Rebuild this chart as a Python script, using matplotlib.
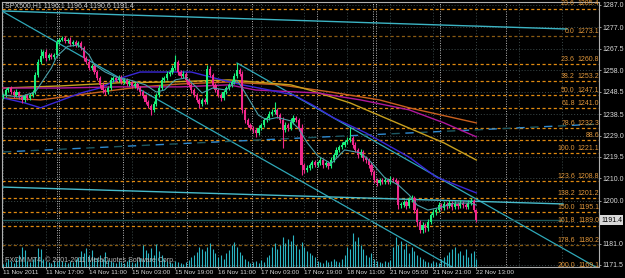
import matplotlib
matplotlib.use('Agg')
import matplotlib.pyplot as plt

plt.rcParams['font.family'] = ['Liberation Sans', 'DejaVu Sans']

# SPX500 H1 candles (index = bar number from the left)
first_open = 1246.0
closes = [1247.0,1249.2,1250.1,1248.3,1247.0,1248.3,1246.1,1244.8,1246.6,1245.7,
          1247.0,1248.3,1255.9,1261.7,1264.3,1266.1,1263.5,1264.8,1263.9,1264.8,
          1270.6,1271.5,1272.3,1271.0,1271.5,1269.7,1270.6,1269.2,1270.1,1267.9,
          1263.5,1261.7,1259.0,1259.9,1257.2,1254.6,1251.5,1249.2,1248.3,1250.1,
          1253.7,1254.6,1253.7,1255.0,1252.8,1253.7,1251.9,1252.8,1251.0,1251.9,
          1250.1,1248.3,1246.6,1243.9,1242.1,1240.4,1243.0,1247.0,1250.1,1253.7,
          1254.6,1256.3,1257.2,1259.0,1261.7,1257.2,1255.5,1256.3,1253.7,1251.5,
          1249.2,1247.0,1244.8,1243.0,1244.8,1243.9,1258.5,1255.9,1251.5,1249.2,
          1247.0,1245.7,1248.3,1250.1,1251.5,1252.8,1255.5,1258.1,1256.3,1240.4,
          1235.9,1233.7,1232.4,1231.5,1230.1,1232.4,1233.7,1235.9,1236.8,1238.6,
          1239.5,1240.4,1238.1,1235.9,1231.5,1233.7,1232.4,1235.0,1236.8,1235.9,
          1232.4,1215.9,1213.7,1214.6,1215.9,1217.2,1215.9,1216.8,1218.1,1215.9,
          1216.8,1215.5,1218.1,1220.4,1222.6,1223.9,1224.8,1226.1,1227.0,1227.9,
          1224.8,1222.6,1220.4,1221.7,1219.0,1218.1,1215.9,1212.8,1209.3,1207.9,
          1209.3,1208.4,1209.3,1208.4,1209.7,1209.3,1208.4,1198.1,1198.1,1199.5,
          1197.7,1200.4,1201.2,1195.9,1190.5,1187.0,1189.2,1187.8,1190.5,1193.7,
          1195.0,1195.9,1198.1,1196.8,1198.6,1197.7,1199.0,1197.2,1198.6,1197.7,
          1199.0,1198.1,1197.2,1199.0,1199.9,1196.1,1191.4]
up_wick = [0.8,1.0,0.6,0.9,0.7,1.2,0.6,0.8,1.0,0.7,
           0.9,1.1,1.4,1.5,3.0,1.0,1.2,0.8,1.0,0.9,
           1.2,0.9,0.8,1.0,0.7,1.1,0.9,0.8,1.0,0.7,
           1.0,0.8,1.2,0.9,1.0,0.7,0.9,1.1,0.8,1.0,
           1.2,0.8,1.0,0.9,0.7,1.0,0.8,0.9,0.7,1.0,
           0.8,0.9,0.7,1.0,0.8,0.9,1.2,1.0,1.3,1.5,
           1.0,1.2,0.9,1.5,3.1,1.0,0.8,1.2,0.9,0.8,
           1.0,0.7,0.9,0.8,1.0,0.9,2.0,1.2,1.0,0.8,
           0.9,1.0,0.8,1.1,0.9,1.0,1.2,3.1,1.0,1.2,
           1.0,0.8,0.9,0.7,1.0,1.2,0.9,1.1,1.0,1.3,
           1.2,3.5,1.0,0.9,1.5,1.2,1.0,2.0,1.3,1.0,
           1.0,1.5,1.0,1.2,1.0,0.8,1.1,0.9,1.2,0.8,
           1.0,0.9,1.2,1.0,1.3,0.9,1.1,1.0,1.2,4.9,
           1.0,1.2,0.8,1.5,1.0,0.9,1.0,1.2,1.0,0.8,
           1.0,0.9,1.1,0.8,1.2,1.0,0.9,1.0,1.2,1.0,
           0.9,1.3,1.5,1.0,0.8,1.0,1.2,0.9,1.4,1.0,
           1.2,1.0,1.5,0.9,1.2,1.0,1.3,0.8,1.1,1.0,
           1.2,0.9,1.0,1.3,1.4,0.8,0.3]
dn_wick = [1.0,0.7,0.9,0.8,1.2,0.8,1.0,1.2,0.9,1.0,
           0.8,1.0,0.9,1.0,0.8,0.9,1.2,0.8,1.0,0.9,
           0.8,1.0,0.7,0.9,0.8,1.0,0.9,0.8,1.1,1.0,
           1.2,0.9,1.0,0.8,1.1,1.0,1.2,1.4,1.3,0.9,
           0.8,1.0,0.9,0.8,1.0,0.9,1.0,0.8,1.1,0.9,
           1.0,1.2,0.9,1.1,1.0,2.3,1.0,0.9,0.8,1.0,
           0.8,0.9,1.0,0.8,0.9,1.2,1.0,0.9,1.1,1.0,
           1.2,0.9,1.1,1.7,1.0,0.9,0.8,1.0,1.2,1.0,
           1.1,1.3,0.9,1.0,0.8,0.9,1.0,0.8,1.0,1.5,
           1.2,1.0,1.1,1.3,1.7,1.0,0.9,0.8,1.0,0.9,
           0.8,1.0,1.2,1.4,8.0,1.0,1.2,0.9,1.0,1.1,
           1.3,4.4,1.5,1.0,0.9,1.2,1.0,1.1,0.9,1.2,
           1.0,1.3,0.9,1.0,0.8,1.0,0.9,1.0,0.8,1.0,
           1.2,1.0,1.3,0.9,1.1,1.2,1.4,1.3,1.5,1.2,
           1.0,1.1,0.9,1.0,0.9,1.1,1.0,1.6,1.2,1.0,
           1.3,1.0,0.9,1.4,1.5,1.3,1.2,1.5,1.0,0.9,
           1.0,1.2,0.9,1.1,1.0,1.2,0.9,1.1,1.0,1.2,
           1.0,1.1,0.9,1.0,0.9,1.2,0.8]
volumes = [3,5,8,6,4,9,12,20,17,6,
           5,8,10,19,18,8,6,5,4,6,
           5,7,6,5,4,6,5,8,10,16,
           14,19,12,17,10,9,12,8,15,7,
           6,5,4,6,5,4,6,8,5,4,
           7,9,22,17,14,19,12,23,16,12,
           8,6,5,4,6,5,4,3,5,7,
           10,12,15,20,18,16,20,24,18,14,
           10,12,8,14,17,22,25,20,15,12,
           8,6,4,5,6,4,7,5,10,12,
           20,24,18,22,30,24,28,26,32,22,
           18,25,20,16,14,12,10,6,5,4,
           7,5,6,8,6,5,8,12,20,18,
           34,26,30,22,18,12,10,14,8,6,
           5,4,6,5,7,20,30,22,26,18,
           24,14,20,16,12,10,8,6,5,4,
           6,5,4,8,10,12,15,18,20,14,
           16,12,18,10,14,16,8]

time_labels = ['11 Nov 2011', '11 Nov 17:00', '14 Nov 11:00', '15 Nov 03:00',
               '15 Nov 19:00', '16 Nov 11:00', '17 Nov 03:00', '17 Nov 19:00',
               '18 Nov 11:00', '21 Nov 05:00', '21 Nov 21:00', '22 Nov 13:00']
price_ticks = [1287.0, 1277.0, 1267.5, 1258.0, 1248.5, 1238.5, 1229.0,
               1219.5, 1210.0, 1200.0, 1190.5, 1181.0, 1171.5]
bid = 1191.4
day_breaks = [19.9, 20.8, 44.6, 68.6, 92.6, 116.7, 137.7, 138.7, 162.5, 187.0]

fib_text = ['23.6', '0.0', '23.6', '38.2', '50.0', '61.8', '78.6', '88.6',
            '100.0', '123.6', '138.2', '150.0', '161.8', '178.6', '200.0']
fib_prices = [1285.4, 1273.1, 1260.8, 1253.2, 1247.1, 1241.0, 1232.3, 1227.1,
              1221.1, 1208.8, 1201.2, 1195.1, 1189.0, 1180.2, 1169.1]

# moving averages, sampled along the curves
fast_x = [0, 6, 12, 18, 20, 24, 28, 32, 34, 38, 42, 47, 53, 57, 60, 64, 68, 71, 74,
          78, 83, 87, 89, 92, 95, 98, 102, 107, 110, 113, 117, 122, 127, 133, 137,
          142, 147, 151, 154, 158, 163, 168, 174, 176]
fast_y = [1247.0, 1246.1, 1248.3, 1259.0, 1264.1, 1268.6, 1269.2, 1264.8, 1260.4,
          1257.2, 1255.0, 1253.7, 1251.5, 1248.3, 1249.2, 1253.7, 1254.6, 1251.5,
          1247.9, 1250.1, 1249.2, 1253.5, 1250.0, 1244.0, 1238.0, 1236.0, 1237.0,
          1235.5, 1232.0, 1226.0, 1220.0, 1216.5, 1222.6, 1221.3, 1217.0, 1210.2,
          1207.0, 1202.6, 1198.1, 1195.9, 1197.2, 1199.0, 1199.0, 1198.1]
blue_x = [0, 8, 14, 19, 29, 36, 44, 51, 60, 70, 80, 89, 99, 108, 115, 123, 135,
          151, 161, 176]
blue_y = [1245.7, 1243.5, 1241.3, 1243.5, 1247.9, 1250.1, 1254.6, 1257.2, 1257.2,
          1257.2, 1254.1, 1251.5, 1249.2, 1247.0, 1242.6, 1236.8, 1230.1, 1219.4,
          1210.6, 1203.5]
magenta_x = [0, 21, 43, 66, 84, 94, 117, 133, 151, 164, 176]
magenta_y = [1250.1, 1250.1, 1250.6, 1250.6, 1251.5, 1249.2, 1247.9, 1244.8,
             1240.4, 1234.6, 1228.4]
brown_x = [0, 14, 36, 51, 66, 84, 103, 122, 140, 151, 176]
brown_y = [1245.7, 1244.8, 1248.3, 1250.6, 1251.9, 1252.8, 1251.5, 1248.3, 1244.8,
           1241.3, 1234.6]
gold_x = [0, 21, 43, 62, 84, 107, 114, 129, 150, 164, 176]
gold_y = [1250.1, 1251.0, 1252.4, 1252.8, 1253.7, 1251.5, 1249.2, 1243.5, 1232.8,
          1225.7, 1218.1]

# trend lines (end points)
chan_a = ([0, 167], [1284.0, 1170.6])
chan_b = ([87, 222], [1261.2, 1169.5])
top_line = ([0, 209.7], [1284.3, 1276.3])
low_line = ([0, 208.2], [1206.1, 1198.6])
dash_line = ([0, 222], [1221.7, 1234.1])

W, H = 625, 278
FS = 5
fig = plt.figure(figsize=(W / 100, H / 100), dpi=100)
fig.patch.set_facecolor('black')
ax = fig.add_axes([2 / W, 11 / H, 597 / W, 265 / H])
ax.set_facecolor('black')
ax.set_xlim(-0.37, 221.6)
ax.set_ylim(1170.6, 1288.3)

grid_c = '#3c4a4a'
for p in price_ticks:
    ax.axhline(p, color=grid_c, lw=0.7, ls=(0, (1, 2)), zorder=1)
for i in range(0, 209, 16):
    ax.axvline(i, color=grid_c, lw=0.7, ls=(0, (1, 2)), zorder=1)
for d in day_breaks:
    ax.axvline(d, color='#b8b8b8', lw=0.7, ls=(0, (1, 1.5)), zorder=1)

# fibo levels
fib_c = '#e0963a'
for t, p in zip(fib_text, fib_prices):
    c = '#8a5a12' if t in ('0.0', '178.6') else '#e08a10'
    ax.axhline(p, color=c, lw=0.9, ls=(0, (2.5, 2)), zorder=2)
    if t == '88.6':
        ax.text(221.6, p + 0.5, t, color=fib_c, fontsize=FS, ha='right', va='bottom', zorder=6)
    else:
        ax.text(212.6, p + 0.5, t, color=fib_c, fontsize=FS, ha='right', va='bottom', zorder=6)
        ax.text(221.6, p + 0.5, '%.1f' % p, color=fib_c, fontsize=FS, ha='right', va='bottom', zorder=6)

# straight lines
ax.plot(*chan_a, color='#2fa8b8', lw=0.9, zorder=3)
ax.plot(*chan_b, color='#2fa8b8', lw=0.9, zorder=3)
ax.plot(*top_line, color='#3cb4c4', lw=1.0, zorder=3)
ax.plot(*low_line, color='#48bccc', lw=1.0, zorder=3)
ax.plot([0, 208], [bid, bid], color='#1e5a5c', lw=1.0, zorder=3)
ax.plot(*dash_line, color='#1d5862', lw=1.0, ls=(0, (6, 14)), zorder=3)
ax.plot(*dash_line, color='#2f8ad0', lw=1.0, ls=(10, (6, 14)), zorder=3)

# moving averages
ax.plot(brown_x, brown_y, color='#c8601e', lw=1.0, zorder=4)
ax.plot(gold_x, gold_y, color='#c8a01e', lw=1.0, zorder=4)
ax.plot(magenta_x, magenta_y, color='#b0189c', lw=1.0, zorder=4)
ax.plot(blue_x, blue_y, color='#3a28d8', lw=1.0, zorder=4)

# candles
n = len(closes)
opens = [first_open] + closes[:-1]
xs = list(range(n))
highs = [max(o, c) + u for o, c, u in zip(opens, closes, up_wick)]
lows = [min(o, c) - d for o, c, d in zip(opens, closes, dn_wick)]
cols = ['#19f07c' if c >= o else '#f0288c' for o, c in zip(opens, closes)]
ax.vlines(xs, lows, highs, colors=cols, lw=0.8, zorder=5)
ax.bar(xs, [max(abs(c - o), 0.3) for o, c in zip(opens, closes)],
       bottom=[min(o, c) for o, c in zip(opens, closes)],
       width=0.8, color=cols, linewidth=0, zorder=5)
ax.plot(fast_x, fast_y, color='#4aa0aa', lw=0.8, zorder=5)

# volumes
axv = ax.twinx()
axv.set_ylim(0, 265)
axv.set_xlim(ax.get_xlim())
axv.vlines(xs, 0, volumes, colors='#2ab4c2', lw=0.8)
axv.axis('off')

# axes look
for s in ax.spines.values():
    s.set_color('#b0b0b0')
    s.set_linewidth(0.8)
ax.yaxis.tick_right()
ax.set_yticks(price_ticks)
ax.set_yticklabels(['' if p == 1190.5 else '%.1f' % p for p in price_ticks])
ax.set_xticks(range(0, n, 16))
ax.set_xticklabels(time_labels)
for lbl in ax.get_xticklabels():
    lbl.set_horizontalalignment('left')
ax.tick_params(axis='both', colors='#b0b0b0', labelcolor='#d8d8d8',
               labelsize=FS, length=1.5, width=0.6, pad=1)
ax.tick_params(axis='x', labelsize=4.6)

# bid box on the price scale
fig.text(601 / W, 1 - 220 / H, '%.1f' % bid, fontsize=FS, color='black',
         ha='left', va='center',
         bbox=dict(boxstyle='square,pad=0.2', fc='#d8d8d8', ec='none'))

fig.text(5 / W, 1 - 2 / H, 'SPX500,H1 1196.1 1196.4 1190.6 1191.4',
         color='#d0d0d0', fontsize=FS, ha='left', va='top')
fig.text(5 / W, 1 - 260 / H, 'FXCM MT4, \u00a9 2001-2011 MetaQuotes Software Corp.',
         color='#b8b8b8', fontsize=FS, ha='left', va='center')

fig.savefig('out.png', dpi=100, facecolor='black')
